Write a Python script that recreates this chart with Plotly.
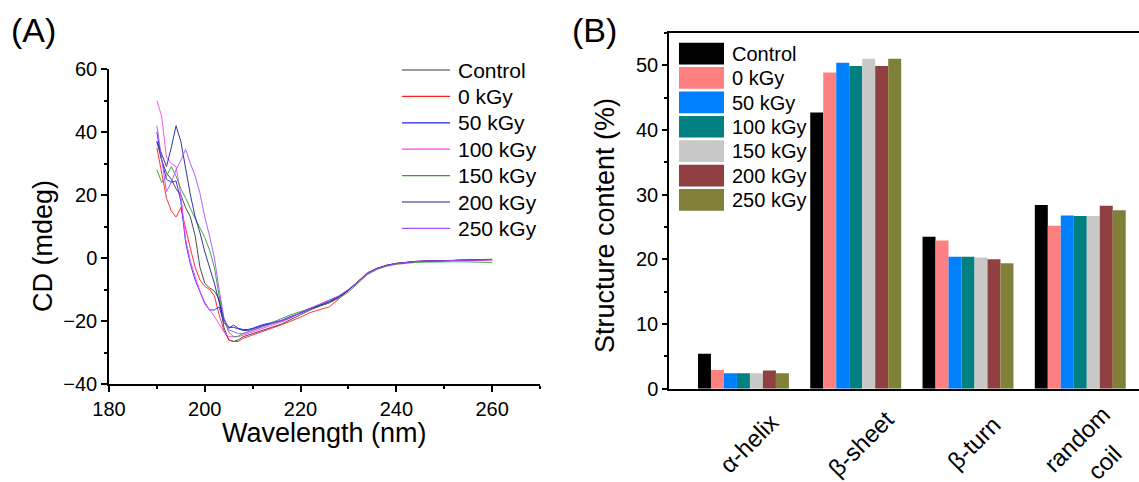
import plotly.graph_objects as go

W, H = 1139, 482
FONT = "Arial, 'Liberation Sans', sans-serif"

# ---------------- Panel A data (CD spectra) ----------------
wavelength = [190, 191, 192, 193, 194, 195, 196, 197, 198, 199, 200, 201, 202, 203, 204, 205, 206, 207, 208, 209, 210,
              212, 214, 216, 218, 220, 222, 224, 226, 228, 230, 232, 234, 236, 238, 240, 242, 244, 246, 248, 250,
              252, 254, 256, 258, 260]

cd_control = [37, 31, 27, 25, 22, 20, 16, 13, 7, -3, -8, -9.5, -10.5, -13, -22, -26, -26.5, -26, -25, -24.5, -24,
              -23, -22, -21, -19.5, -18, -16.5, -15.3, -14.2, -12.5, -10.3, -7.5, -4.8, -3.3, -2.4, -1.8, -1.4, -1.2,
              -1.0, -0.9, -0.8, -0.8, -0.7, -0.7, -0.6, -0.5]
cd_0kgy = [35, 27, 19, 15, 13, 16, 9, 3, -3, -7, -9, -10, -12, -18, -23, -26, -26.5, -26.5, -25.5, -25, -24.5,
           -23.5, -22.3, -21.2, -20, -18.8, -17.3, -16.3, -15.5, -13, -10.2, -7.2, -4.6, -3.2, -2.3, -1.7, -1.3, -1.1,
           -1.0, -0.9, -0.8, -0.7, -0.7, -0.6, -0.6, -0.6]
cd_50kgy = [40, 31, 25, 24, 24.5, 18, 5, -2, -7, -11, -14.5, -16.5, -16.5, -15.5, -20.5, -22.3, -21.3, -22.3, -22.7,
            -22.7, -22.3,
            -21.2, -20.5, -19.8, -18.5, -17.5, -16.2, -15.2, -14.1, -12.3, -10.2, -7.6, -4.9, -3.4, -2.4, -1.8, -1.4,
            -1.1, -1.0, -0.9, -0.9, -0.8, -0.7, -0.7, -0.6, -0.5]
cd_100kgy = [50, 45, 32, 30, 29, 20, 6, -1, -6, -10.5, -14, -16.5, -18.5, -21, -23.5, -25, -25, -25, -24.5, -24, -23.5,
             -22.5, -21.3, -20.3, -19, -17.3, -16, -14.8, -13.5, -12.2, -10, -7.4, -4.8, -3.3, -2.3, -1.7, -1.3,
             -1.1, -1.0, -0.9, -0.8, -0.8, -0.7, -0.7, -0.6, -0.5]
cd_150kgy = [28, 24, 26, 29, 26, 22, 19, 15.5, 12.5, 9.5, 6.5, 2.5, -3, -12, -19.5, -23.5, -25, -24.8, -24, -23.5, -23,
             -21.8, -20.5, -19.2, -18, -17, -16, -15, -14.2, -12.8, -10.8, -8, -5.2, -3.6, -2.6, -2, -1.6, -1.4,
             -1.3, -1.2, -1.2, -1.2, -1.2, -1.3, -1.3, -1.4]
cd_200kgy = [37, 33, 29, 35, 42, 37, 28, 20, 13, 8, 2, -3, -8, -14, -19.5, -22, -22, -22.5, -23, -23, -22.5,
             -21.5, -20.8, -20, -18.8, -17.4, -16, -15, -13.8, -12.2, -10.2, -7.5, -4.9, -3.3, -2.3, -1.7, -1.3,
             -1.1, -1.0, -0.9, -0.8, -0.8, -0.7, -0.7, -0.6, -0.4]
cd_250kgy = [42, 31, 21, 24, 28, 31, 34.5, 30, 26, 20.5, 13, 7, 0, -10, -19, -22.8, -23.5, -24, -24, -23.5, -23,
             -22, -21, -20, -18.8, -17.3, -16, -14.8, -13.5, -12, -10, -7.6, -4.9, -3.4, -2.4, -1.8, -1.4,
             -1.1, -1.0, -0.9, -0.8, -0.7, -0.7, -0.7, -0.6, -0.5]

series_names = ["Control", "0 kGy", "50 kGy", "100 kGy", "150 kGy", "200 kGy", "250 kGy"]
cd_series = [cd_control, cd_0kgy, cd_50kgy, cd_100kgy, cd_150kgy, cd_200kgy, cd_250kgy]
line_colors = ["#3a3a3a", "#ff2020", "#2020ff", "#ff40ff", "#30a030", "#202090", "#a850ff"]

# ---------------- Panel B data (secondary structure) ----------------
categories = ["α-helix", "β-sheet", "β-turn", "random coil"]
bar_control = [5.4, 42.7, 23.5, 28.4]
bar_0kgy = [2.9, 48.9, 22.9, 25.2]
bar_50kgy = [2.4, 50.4, 20.4, 26.8]
bar_100kgy = [2.4, 49.9, 20.4, 26.7]
bar_150kgy = [2.4, 51.0, 20.3, 26.7]
bar_200kgy = [2.8, 49.9, 20.0, 28.3]
bar_250kgy = [2.4, 51.0, 19.4, 27.6]
bar_series = [bar_control, bar_0kgy, bar_50kgy, bar_100kgy, bar_150kgy, bar_200kgy, bar_250kgy]
bar_colors = ["#000000", "#ff8080", "#0080ff", "#008080", "#c8c8c8", "#904040", "#808038"]


def px(x):
    return x / W


def py(y):
    return 1 - y / H


fig = go.Figure()

for name, vals, col in zip(series_names, cd_series, line_colors):
    fig.add_trace(go.Scatter(x=wavelength, y=vals, mode="lines", name=name,
                             line=dict(color=col, width=1), opacity=0.9,
                             xaxis="x", yaxis="y", showlegend=False))

for name, vals, col in zip(series_names, bar_series, bar_colors):
    fig.add_trace(go.Bar(x=categories, y=vals, name=name, marker=dict(color=col, line=dict(width=0)),
                         xaxis="x2", yaxis="y2", showlegend=False))

axis_common = dict(showline=True, linecolor="black", linewidth=1.5, showgrid=False, zeroline=False,
                   ticks="outside", tickcolor="black", tickwidth=1.5, automargin=False,
                   tickfont=dict(family=FONT, size=20, color="black"))

fig.update_layout(
    template="none",
    width=W, height=H,
    margin=dict(l=0, r=0, t=0, b=0, pad=0),
    paper_bgcolor="white", plot_bgcolor="white",
    showlegend=False,
    barmode="group", bargap=0.19, bargroupgap=0,
    xaxis=dict(domain=[px(109), px(540)], range=[180, 270], dtick=20, ticklen=6,
               minor=dict(dtick=10, ticks="outside", ticklen=3.5, tickcolor="black", tickwidth=1.5),
               anchor="y", **axis_common),
    yaxis=dict(domain=[py(384), py(69)], range=[-40, 60], dtick=20, ticklen=6,
               minor=dict(dtick=10, ticks="outside", ticklen=3.5, tickcolor="black", tickwidth=1.5),
               anchor="x", **axis_common),
    xaxis2=dict(domain=[px(669), 1.0], range=[-0.663, 3.523], type="category",
                showline=True, linecolor="black", linewidth=1.5, mirror=True, ticks="", automargin=False,
                showticklabels=False, showgrid=False, zeroline=False, anchor="y2"),
    yaxis2=dict(domain=[py(388.7), py(33)], range=[0, 55], dtick=10, ticklen=5,
                minor=dict(dtick=5, ticks="outside", ticklen=3, tickcolor="black", tickwidth=1.5),
                anchor="x2", **axis_common),
)

ann = []


def label(text, x, y, size, angle=0, xref="paper", xshift=0):
    return dict(text=text, x=x, y=y, xref=xref, yref="paper", xanchor="center", yanchor="middle",
                xshift=xshift, showarrow=False, textangle=angle,
                font=dict(family=FONT, size=size, color="black"))


# panel labels
ann.append(label("(A)", px(33), py(30), 34))
ann.append(label("(B)", px(594), py(30), 34))
# axis titles
ann.append(label("Wavelength (nm)", px(324), py(433), 27))
ann.append(label("CD (mdeg)", px(43), py(246), 27, angle=-90))
ann.append(label("Structure content (%)", px(605), py(226), 27, angle=-90))

# rotated category labels
for cat in categories:
    words = cat.split(" ")
    if len(words) == 1:
        ann.append(label(cat, cat, py(443), 24, angle=-45, xref="x2", xshift=5))
    else:
        ann.append(label(words[0], cat, py(439), 24, angle=-45, xref="x2", xshift=-4))
        ann.append(label(words[1], cat, py(462), 24, angle=-45, xref="x2", xshift=24))

shapes = []
# legend for panel A
for i, (name, col) in enumerate(zip(series_names, line_colors)):
    yy = 70 + i * 26.4
    shapes.append(dict(type="line", xref="paper", yref="paper", x0=px(402), x1=px(450), y0=py(yy), y1=py(yy),
                       line=dict(color=col, width=1.2)))
    ann.append(dict(text=name, x=px(456), y=py(yy), xref="paper", yref="paper", xanchor="left", yanchor="middle",
                    showarrow=False, font=dict(family=FONT, size=21, color="black")))
# legend for panel B
for i, (name, col) in enumerate(zip(series_names, bar_colors)):
    y0 = 42.7 + i * 24.4
    shapes.append(dict(type="rect", xref="paper", yref="paper", x0=px(679), x1=px(724), y0=py(y0), y1=py(y0 + 21.7),
                       fillcolor=col, line=dict(width=0)))
    ann.append(dict(text=name, x=px(730), y=py(y0 + 11), xref="paper", yref="paper", xanchor="left",
                    yanchor="middle", showarrow=False, font=dict(family=FONT, size=20, color="black")))

fig.update_layout(annotations=ann, shapes=shapes)

fig.write_html("out.html", config={"displayModeBar": False})
